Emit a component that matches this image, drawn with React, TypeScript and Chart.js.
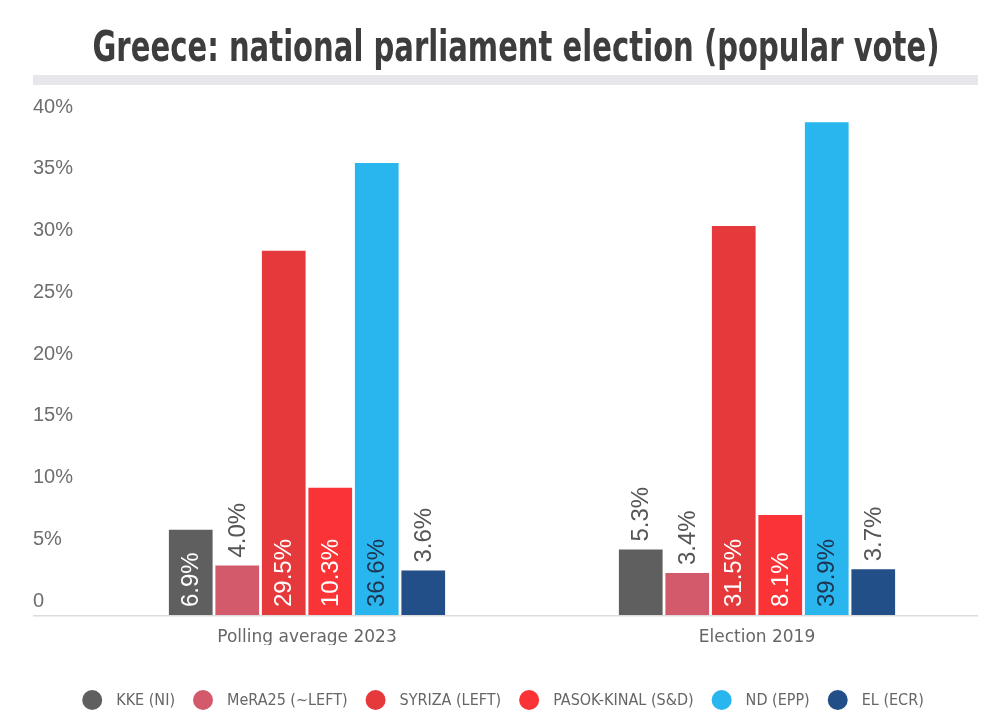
import React, { useEffect, useRef } from "react";
import { Chart, registerables } from "chart.js";

Chart.register(...registerables);

const TITLE = "Greece: national parliament election (popular vote)";
const categories = ["Polling average 2023", "Election 2019"];
const partyNames = ["KKE (NI)", "MeRA25 (~LEFT)", "SYRIZA (LEFT)", "PASOK-KINAL (S&D)", "ND (EPP)", "EL (ECR)"];
const kke = [6.9, 5.3];
const mera25 = [4.0, 3.4];
const syriza = [29.5, 31.5];
const pasok = [10.3, 8.1];
const nd = [36.6, 39.9];
const el = [3.6, 3.7];
const seriesValues = [kke, mera25, syriza, pasok, nd, el];
const partyColors = ["#5f5f5f", "#d35a6b", "#e5393c", "#fa3336", "#29b6ee", "#234f88"];
const insideLabelColors = ["#ffffff", "#ffffff", "#ffffff", "#ffffff", "#1d3550", "#ffffff"];
const yTicks = [0, 5, 10, 15, 20, 25, 30, 35, 40];

const FONT = '"Liberation Sans", Arial, sans-serif';
const COND = '"DejaVu Sans Condensed", "DejaVu Sans", sans-serif';

// Title text and the grey band under it
const headerPlugin = {
  id: "header",
  beforeDraw(chart: any) {
    const ctx = chart.ctx;
    ctx.save();
    ctx.fillStyle = "#e7e7eb";
    ctx.fillRect(33, 75, 945, 10);
    ctx.font = `bold 42px ${COND}`;
    const w = ctx.measureText(TITLE).width;
    const target = 847;
    ctx.translate(516, 61);
    ctx.scale(target / w, 1);
    ctx.fillStyle = "#3d3d3d";
    ctx.textAlign = "center";
    ctx.textBaseline = "alphabetic";
    ctx.fillText(TITLE, 0, 0);
    ctx.restore();
  },
};

// Baseline running under the value axis labels too
const baselinePlugin = {
  id: "baseline",
  afterDatasetsDraw(chart: any) {
    const ctx = chart.ctx;
    const y = chart.scales.y.getPixelForValue(0);
    ctx.save();
    ctx.strokeStyle = "#dcdcdc";
    ctx.lineWidth = 1.5;
    ctx.beginPath();
    ctx.moveTo(33, y + 0.75);
    ctx.lineTo(978, y + 0.75);
    ctx.stroke();
    ctx.restore();
  },
};

// Rotated value labels: inside the bar at its base, or above short bars
const valueLabelPlugin = {
  id: "valueLabels",
  afterDatasetsDraw(chart: any) {
    const ctx = chart.ctx;
    chart.data.datasets.forEach((ds: any, i: number) => {
      const meta = chart.getDatasetMeta(i);
      meta.data.forEach((bar: any, j: number) => {
        const v = ds.data[j];
        const text = v.toFixed(1) + "%";
        const inside = v > 6;
        ctx.save();
        ctx.font = `24px ${FONT}`;
        ctx.translate(bar.x, inside ? bar.base - 8 : bar.y - 8);
        ctx.rotate(-Math.PI / 2);
        ctx.textAlign = "left";
        ctx.textBaseline = "middle";
        ctx.fillStyle = inside ? insideLabelColors[i] : "#555555";
        ctx.fillText(text, 0, 1);
        ctx.restore();
      });
    });
  },
};

// Centered row of circle markers with party names under the plot
const legendRowPlugin = {
  id: "legendRow",
  afterDraw(chart: any) {
    const ctx = chart.ctx;
    const dotD = 20;
    const dotGap = 14;
    const itemGap = 18;
    const cy = 700;
    ctx.save();
    ctx.font = `16px ${COND}`;
    const items = chart.data.datasets.map((ds: any) => ({
      label: ds.label,
      color: ds.backgroundColor,
      w: ctx.measureText(ds.label).width,
    }));
    const total = items.reduce((s: number, it: any) => s + dotD + dotGap + it.w, 0) + itemGap * (items.length - 1);
    let x = 503 - total / 2;
    ctx.textBaseline = "middle";
    ctx.textAlign = "left";
    items.forEach((it: any) => {
      ctx.fillStyle = it.color;
      ctx.beginPath();
      ctx.arc(x + dotD / 2, cy, dotD / 2, 0, Math.PI * 2);
      ctx.fill();
      x += dotD + dotGap;
      ctx.fillStyle = "#666666";
      ctx.fillText(it.label, x, cy + 1);
      x += it.w + itemGap;
    });
    ctx.restore();
  },
};

export default function App() {
  const canvasRef = useRef<HTMLCanvasElement | null>(null);

  useEffect(() => {
    if (!canvasRef.current) return;
    const chart = new Chart(canvasRef.current, {
      type: "bar",
      data: {
        labels: categories,
        datasets: partyNames.map((name, i) => ({
          label: name,
          data: seriesValues[i],
          backgroundColor: partyColors[i],
          borderWidth: 0,
          barPercentage: 0.94,
          categoryPercentage: 0.62,
        })),
      },
      options: {
        animation: false,
        responsive: false,
        maintainAspectRatio: false,
        layout: { padding: { top: 121, left: 33, right: 18, bottom: 81 } },
        plugins: {
          tooltip: { enabled: false },
          title: { display: false },
          legend: { display: false },
        },
        scales: {
          x: {
            afterFit(scale: any) {
              scale.height = 30;
            },
            grid: { display: false, drawTicks: false },
            border: { display: false },
            ticks: { color: "#666666", font: { family: '"DejaVu Sans", sans-serif', size: 17 }, padding: 12 },
          },
          y: {
            min: 0,
            max: 40,
            afterBuildTicks(scale: any) {
              scale.ticks = yTicks.map((v) => ({ value: v }));
            },
            afterFit(scale: any) {
              scale.width = 49;
            },
            grid: { display: false, drawTicks: false },
            border: { display: false },
            ticks: {
              color: "#6e6e6e",
              font: { family: FONT, size: 20 },
              crossAlign: "far",
              labelOffset: -14,
              padding: 0,
              callback: (v: any) => (v === 0 ? "0" : v + "%"),
            },
          },
        },
      },
      plugins: [headerPlugin, baselinePlugin, valueLabelPlugin, legendRowPlugin],
    } as any);
    return () => chart.destroy();
  }, []);

  return (
    <div style={{ position: "fixed", left: 0, top: 0, width: 1000, height: 726, background: "#ffffff" }}>
      <canvas ref={canvasRef} width={1000} height={726} style={{ display: "block" }} />
    </div>
  );
}
